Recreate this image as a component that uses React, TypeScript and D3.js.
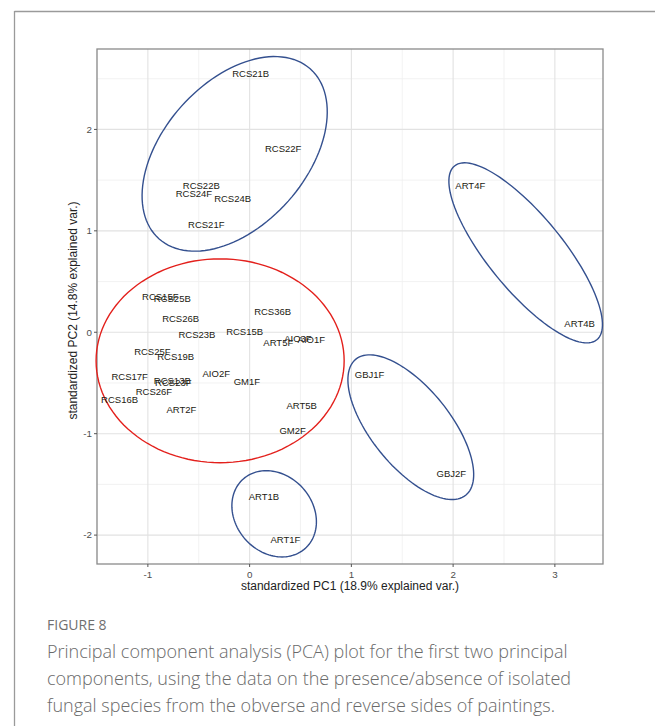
import React from "react";
import * as d3 from "d3";

// ---- data ----
const sampleNames = [
  "RCS21B", "RCS22F", "RCS22B", "RCS24F", "RCS24B", "RCS21F",
  "RCS15F", "RCS25B", "RCS26B", "RCS36B", "RCS23B", "RCS15B",
  "AIO3F", "AIO1F", "ART5F", "RCS25F", "RCS19B", "RCS17F",
  "RCS13B", "RCS23F", "AIO2F", "GM1F", "RCS26F", "RCS16B",
  "ART2F", "ART5B", "GM2F", "ART1B", "ART1F", "ART4F",
  "ART4B", "GBJ1F", "GBJ2F",
];
const pc1Values = [
  0.01, 0.33, -0.475, -0.547, -0.167, -0.426,
  -0.878, -0.76, -0.678, 0.226, -0.518, -0.049,
  0.475, 0.606, 0.282, -0.956, -0.727, -1.179,
  -0.76, -0.75, -0.328, -0.027, -0.94, -1.278,
  -0.671, 0.511, 0.423, 0.141, 0.351, 2.169,
  3.243, 1.179, 1.982,
];
const pc2Values = [
  2.55, 1.81, 1.45, 1.365, 1.315, 1.062,
  0.347, 0.327, 0.136, 0.202, -0.028, 0.008,
  -0.061, -0.077, -0.103, -0.195, -0.244, -0.441,
  -0.477, -0.5, -0.409, -0.485, -0.586, -0.668,
  -0.767, -0.727, -0.967, -1.618, -2.044, 1.443,
  0.09, -0.416, -1.394,
];

// group ellipses (data units): centre, semi-axes, rotation (deg)
const ellipseCx = [-0.147, -0.29, 2.713, 1.584, 0.241];
const ellipseCy = [1.759, -0.281, 0.783, -0.936, -1.79];
const ellipseA = [1.12, 1.219, 1.106, 0.861, 0.458];
const ellipseB = [0.703, 1.005, 0.367, 0.387, 0.379];
const ellipseAngle = [48.5, 0, -50.8, -51.2, -48.6];
const ellipseGroup = ["blue", "red", "blue", "blue", "blue"];

const xTicks = [-1, 0, 1, 2, 3];
const yTicks = [-2, -1, 0, 1, 2];
const xMinor = [-1.5, -0.5, 0.5, 1.5, 2.5];
const yMinor = [-1.5, -0.5, 0.5, 1.5, 2.5];

const xTitle = "standardized PC1 (18.9% explained var.)";
const yTitle = "standardized PC2 (14.8% explained var.)";
const figureLabel = "FIGURE 8";
const captionLines = [
  "Principal component analysis (PCA) plot for the first two principal",
  "components, using the data on the presence/absence of isolated",
  "fungal species from the obverse and reverse sides of paintings.",
];

export default function App() {
  const W = 655, H = 726;
  const left = 97, right = 603, top = 49, bottom = 564;
  const x = d3.scaleLinear().domain([-1.5, 3.473]).range([left, right]);
  const y = d3.scaleLinear().domain([-2.285, 2.793]).range([bottom, top]);

  const colors: Record<string, string> = { blue: "#34508f", red: "#e3201c" };

  const line = d3
    .line<[number, number]>()
    .x((d) => x(d[0]))
    .y((d) => y(d[1]))
    .curve(d3.curveLinearClosed);

  const ellipses = ellipseCx.map((cx, i) => {
    const th = (ellipseAngle[i] * Math.PI) / 180;
    const a = ellipseA[i], b = ellipseB[i], cy = ellipseCy[i];
    const pts: [number, number][] = d3.range(0, 120).map((k) => {
      const t = (k / 120) * 2 * Math.PI;
      return [
        cx + a * Math.cos(t) * Math.cos(th) - b * Math.sin(t) * Math.sin(th),
        cy + a * Math.cos(t) * Math.sin(th) + b * Math.sin(t) * Math.cos(th),
      ];
    });
    return { d: line(pts) || "", color: colors[ellipseGroup[i]] };
  });

  const font = "'Liberation Sans', Arial, sans-serif";

  return (
    <svg
      width={W}
      height={H}
      style={{ position: "absolute", left: 0, top: 0, background: "#fff" }}
    >
      <rect x={0} y={0} width={W} height={H} fill="#fff" />
      {/* card border */}
      <line x1={14.5} x2={W} y1={11.5} y2={11.5} stroke="#9a9a9a" strokeWidth={1.3} />
      <line x1={14.5} x2={14.5} y1={11} y2={H} stroke="#9a9a9a" strokeWidth={1.3} />

      {/* grid */}
      {xMinor.map((v) => (
        <line key={"xm" + v} x1={x(v)} x2={x(v)} y1={top} y2={bottom} stroke="#efefef" strokeWidth={0.8} />
      ))}
      {yMinor.map((v) => (
        <line key={"ym" + v} x1={left} x2={right} y1={y(v)} y2={y(v)} stroke="#efefef" strokeWidth={0.8} />
      ))}
      {xTicks.map((v) => (
        <line key={"xg" + v} x1={x(v)} x2={x(v)} y1={top} y2={bottom} stroke="#e2e2e2" strokeWidth={1.1} />
      ))}
      {yTicks.map((v) => (
        <line key={"yg" + v} x1={left} x2={right} y1={y(v)} y2={y(v)} stroke="#e2e2e2" strokeWidth={1.1} />
      ))}

      {/* panel border */}
      <rect x={left} y={top} width={right - left} height={bottom - top} fill="none" stroke="#8a8a8a" strokeWidth={1.3} />

      {/* ticks */}
      {xTicks.map((v) => (
        <g key={"xt" + v}>
          <line x1={x(v)} x2={x(v)} y1={bottom} y2={bottom + 3} stroke="#555" strokeWidth={1} />
          <text x={x(v)} y={bottom + 14} textAnchor="middle" fontFamily={font} fontSize={9.8} fill="#4d4d4d">
            {v}
          </text>
        </g>
      ))}
      {yTicks.map((v) => (
        <g key={"yt" + v}>
          <line x1={left - 3} x2={left} y1={y(v)} y2={y(v)} stroke="#555" strokeWidth={1} />
          <text x={left - 5} y={y(v) + 3.4} textAnchor="end" fontFamily={font} fontSize={9.8} fill="#4d4d4d">
            {v}
          </text>
        </g>
      ))}

      {/* axis titles */}
      <text x={(left + right) / 2} y={590} textAnchor="middle" fontFamily={font} fontSize={12} fill="#222">
        {xTitle}
      </text>
      <text
        transform={`translate(77,${(top + bottom) / 2 + 4}) rotate(-90)`}
        textAnchor="middle"
        fontFamily={font}
        fontSize={12}
        fill="#222"
      >
        {yTitle}
      </text>

      {/* ellipses */}
      {ellipses.map((e, i) => (
        <path key={"el" + i} d={e.d} fill="none" stroke={e.color} strokeWidth={1.4} />
      ))}

      {/* labels */}
      {sampleNames.map((n, i) => (
        <text
          key={n}
          x={x(pc1Values[i])}
          y={y(pc2Values[i]) + 3.4}
          textAnchor="middle"
          fontFamily={font}
          fontSize={9.5}
          fill="#221a12"
        >
          {n}
        </text>
      ))}

      {/* caption */}
      <text x={47} y={630} fontFamily="'Open Sans', sans-serif" fontSize={14} fill="#6f6f6f" fontWeight={500}>
        {figureLabel}
      </text>
      {captionLines.map((l, i) => (
        <text
          key={"c" + i}
          x={47}
          y={658 + i * 27}
          fontFamily="'Open Sans', sans-serif"
          fontSize={18}
          fill="#6a6a6a"
          fontWeight={300}
        >
          {l}
        </text>
      ))}
    </svg>
  );
}
